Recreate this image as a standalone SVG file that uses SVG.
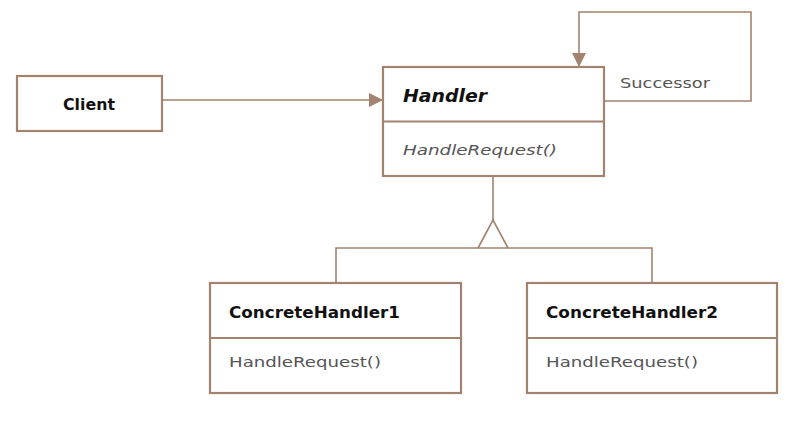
<svg xmlns="http://www.w3.org/2000/svg" width="804" height="426" viewBox="0 0 804 426">
<style>
.box{fill:#fff;stroke:#a3836f;stroke-width:2.2}
.ln{fill:none;stroke:#a3836f;stroke-width:1.6}
.t{font-family:"DejaVu Sans","Liberation Sans",sans-serif}
.b{font-weight:bold;fill:#111;font-size:15px}
.m{fill:#555;font-size:14px}
.i{font-style:italic}
</style>
<defs>
<marker id="arr" viewBox="0 0 14 14" refX="14" refY="7" markerWidth="14" markerHeight="14" markerUnits="userSpaceOnUse" orient="auto">
<path d="M0,0 L14,7 L0,14 Z" fill="#a3836f"/>
</marker>
</defs>
<rect width="804" height="426" fill="#fff"/>
<g id="connectors">
<line class="ln" x1="162" y1="100" x2="383" y2="100" marker-end="url(#arr)"/>
<polyline class="ln" points="604,101 751,101 751,12 579,12 579,67" marker-end="url(#arr)"/>
<line class="ln" x1="493" y1="177" x2="493" y2="220"/>
<path class="ln" d="M478,248 L493,220 L508,248"/>
<polyline class="ln" points="336,283 336,248 652,248 652,283"/>
</g>
<g id="client">
<rect class="box" x="17" y="76" width="145" height="55"/>
<text class="t b" x="63" y="110" textLength="52" lengthAdjust="spacingAndGlyphs">Client</text>
</g>
<g id="handler">
<rect class="box" x="383" y="67" width="221" height="109"/>
<line class="ln" x1="383" y1="121.5" x2="604" y2="121.5" style="stroke-width:2"/>
<text class="t b i" x="403" y="102" style="font-size:17px" textLength="84" lengthAdjust="spacingAndGlyphs">Handler</text>
<text class="t m i" x="403" y="155" textLength="154" lengthAdjust="spacingAndGlyphs">HandleRequest()</text>
</g>
<g id="successor-label">
<text class="t m" x="620" y="88" textLength="90" lengthAdjust="spacingAndGlyphs">Successor</text>
</g>
<g id="concrete1">
<rect class="box" x="210" y="283" width="251" height="110"/>
<line class="ln" x1="210" y1="338" x2="461" y2="338" style="stroke-width:2"/>
<text class="t b" x="229" y="318" textLength="171" lengthAdjust="spacingAndGlyphs">ConcreteHandler1</text>
<text class="t m" x="229" y="367" textLength="152" lengthAdjust="spacingAndGlyphs">HandleRequest()</text>
</g>
<g id="concrete2">
<rect class="box" x="527" y="283" width="250" height="110"/>
<line class="ln" x1="527" y1="338" x2="777" y2="338" style="stroke-width:2"/>
<text class="t b" x="546" y="318" textLength="172" lengthAdjust="spacingAndGlyphs">ConcreteHandler2</text>
<text class="t m" x="546" y="367" textLength="152" lengthAdjust="spacingAndGlyphs">HandleRequest()</text>
</g>
</svg>
